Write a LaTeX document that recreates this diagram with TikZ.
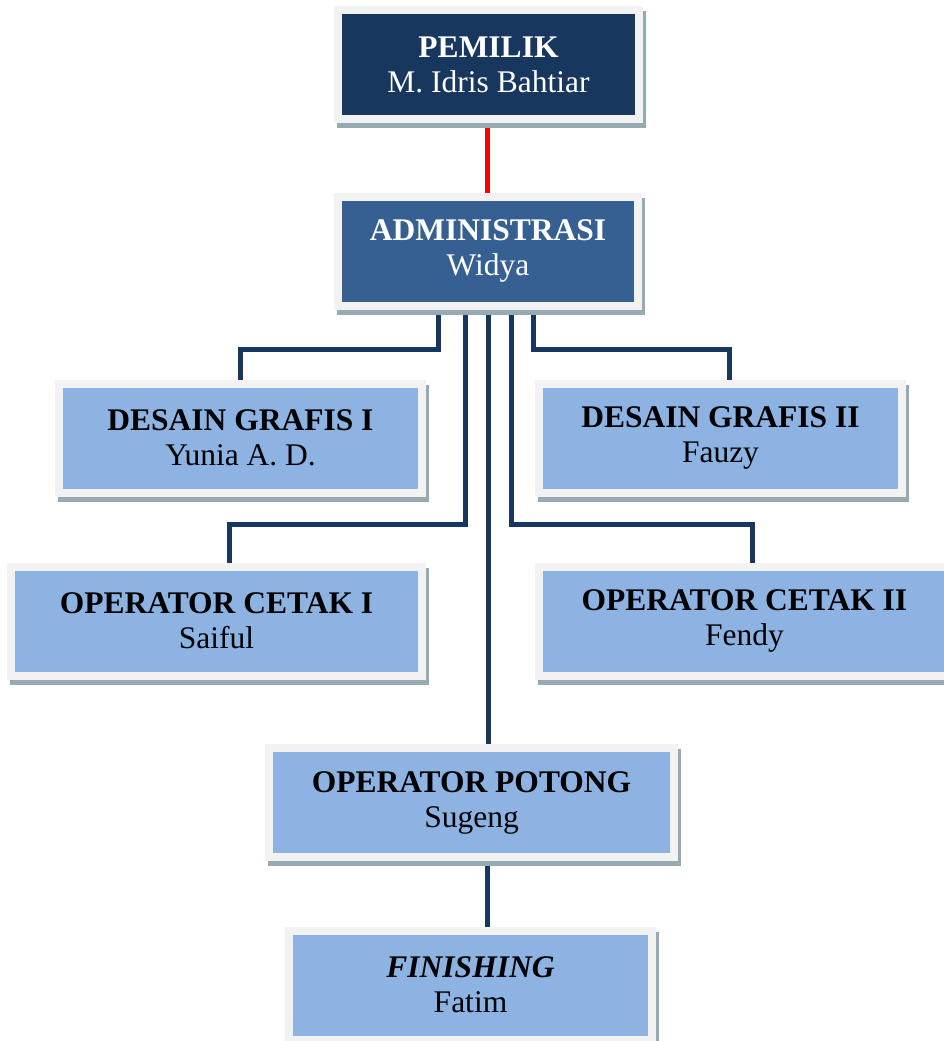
\documentclass[tikz,border=0pt]{standalone}
\usepackage{fontspec}
\setmainfont{Liberation Serif}
\usetikzlibrary{shadows,backgrounds,positioning}
\definecolor{Navy}{HTML}{17375E}
\definecolor{Steel}{HTML}{366092}
\definecolor{Sky}{HTML}{8DB3E2}
\definecolor{Rim}{HTML}{F2F2F2}
\definecolor{Shade}{HTML}{96AAB3}
\newcommand{\Jabatan}[2]{\textbf{#1}\\#2}

\begin{document}
\begin{tikzpicture}[x=0.5pt,y=-0.5pt,
  jabatan/.style={draw=Rim,line width=4pt,minimum height=54.5pt,inner sep=0pt,align=center,
    font=\fontsize{15.75}{17.5}\selectfont,
    drop shadow={shadow xshift=1.5pt,shadow yshift=-2.5pt,fill=Shade,draw=Shade,line width=4pt,opacity=1}},
  garis/.style={Navy,line width=2.5pt}]
\useasboundingbox (0,0) rectangle (944,1041);
% kotak jabatan
\node[jabatan,fill=Navy,text=white,minimum width=150.5pt] (pemilik) at (488.5,64.5) {\Jabatan{PEMILIK}{M. Idris Bahtiar}};
\node[jabatan,fill=Steel,text=white,minimum width=150pt] (admin) at (488,251) {\Jabatan{ADMINISTRASI}{Widya}};
\node[jabatan,fill=Sky,minimum width=181.5pt] (dgsatu) at (240.5,438) {\Jabatan{DESAIN GRAFIS I}{Yunia A. D.}};
\node[jabatan,fill=Sky,minimum width=181.5pt] (dgdua) at (720.5,438) {\Jabatan{DESAIN GRAFIS II}{Fauzy}};
\node[jabatan,fill=Sky,minimum width=205.5pt] (ocsatu) at (216.5,621) {\Jabatan{OPERATOR CETAK I}{Saiful}};
\node[jabatan,fill=Sky,minimum width=205.5pt] (ocdua) at (744.5,621) {\Jabatan{OPERATOR CETAK II}{Fendy}};
\node[jabatan,fill=Sky,minimum width=202.5pt] (potong) at (471.5,802.5) {\Jabatan{OPERATOR POTONG}{Sugeng}};
\node[jabatan,fill=Sky,minimum width=181.5pt] (finishing) at (470.5,985) {\Jabatan{\textit{FINISHING}}{Fatim}};
% garis hubung
\begin{scope}[on background layer]
\draw[red,line width=2.5pt] (pemilik.south -| 487,0) -- (admin.north -| 487,0);
\draw[garis] (admin.south -| 438,0) -- (438,349) -| (dgsatu.north -| 240,0);
\draw[garis] (admin.south -| 533,0) -- (533,349) -| (dgdua.north -| 729,0);
\draw[garis] (admin.south -| 465,0) -- (465,524.5) -| (ocsatu.north -| 229,0);
\draw[garis] (admin.south -| 511,0) -- (511,524.5) -| (ocdua.north -| 752,0);
\draw[garis] (admin.south) -- (admin.south |- potong.north);
\draw[garis] (potong.south -| 487,0) -- (finishing.north -| 487,0);
\end{scope}
\end{tikzpicture}
\end{document}
